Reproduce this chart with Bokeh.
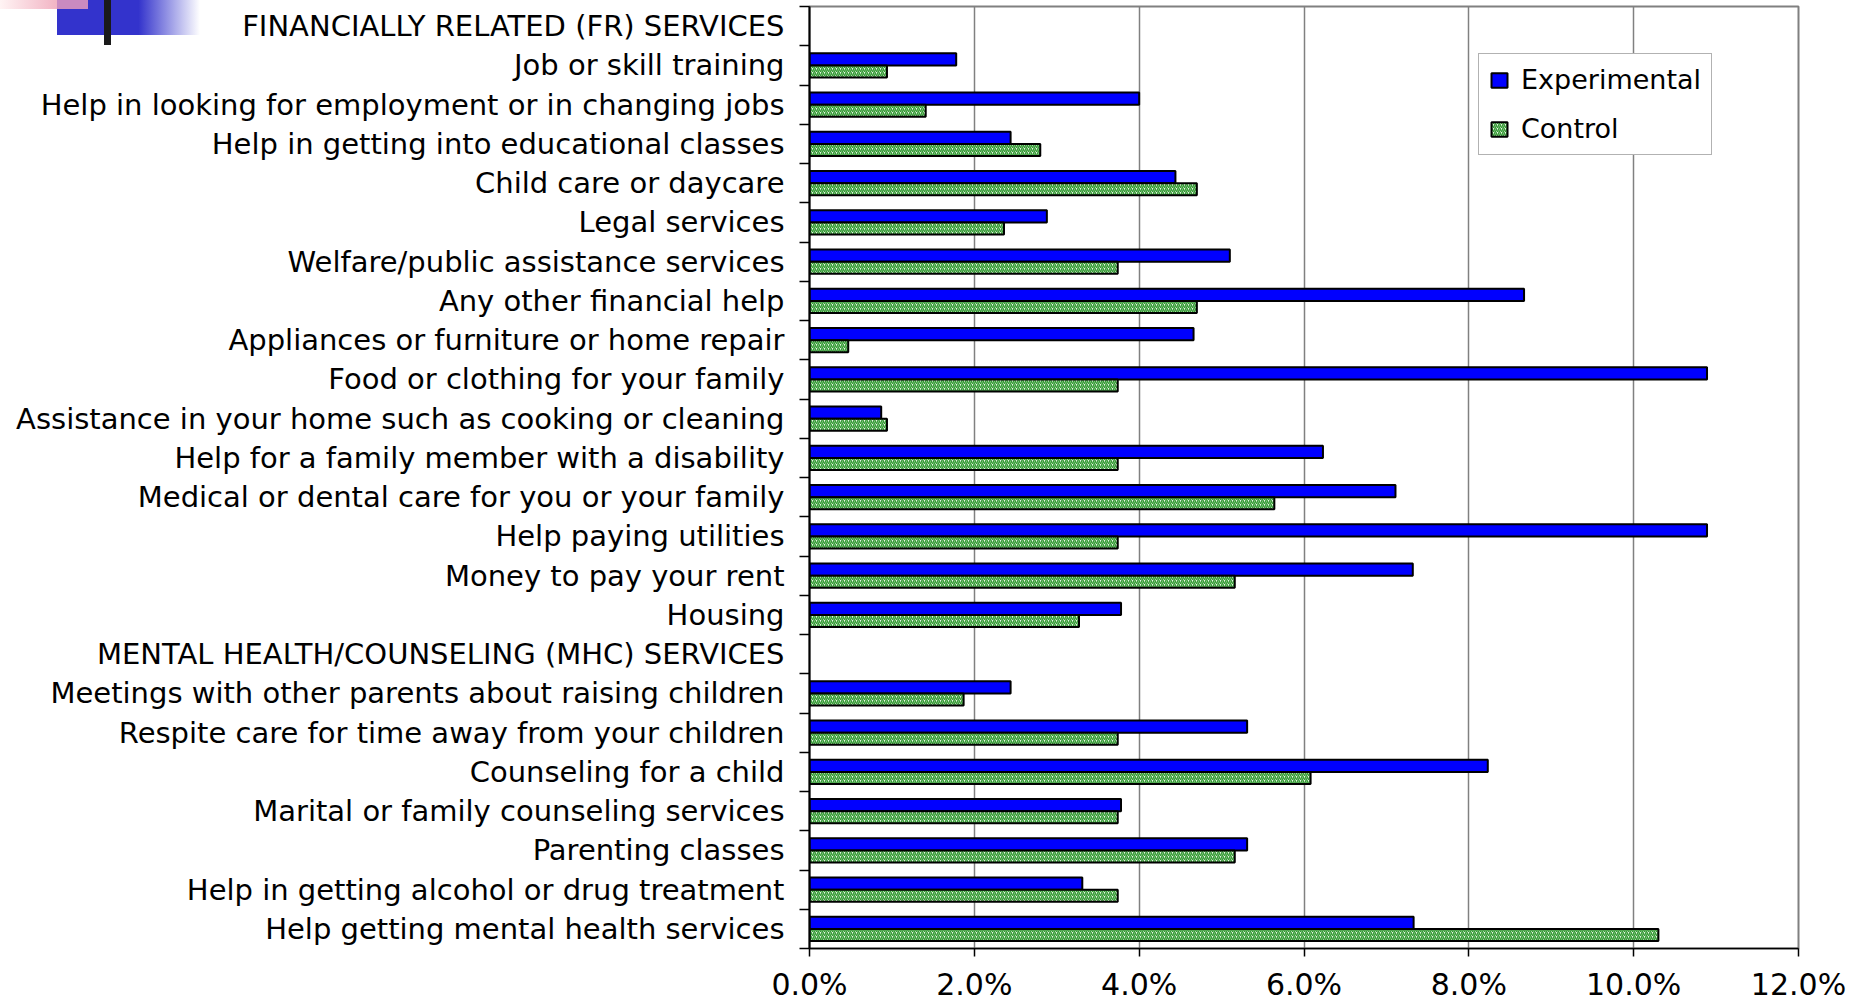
from bokeh.plotting import figure
from bokeh.models import (ColumnDataSource, Range1d, LinearAxis, FixedTicker,
                          PrintfTickFormatter, CustomJSTickFormatter, Div)
from bokeh.layouts import column
from bokeh.transform import dodge
from bokeh.embed import file_html
from bokeh.resources import INLINE

categories = [
    "FINANCIALLY RELATED (FR) SERVICES",
    "Job or skill training",
    "Help in looking for employment or in changing jobs",
    "Help in getting into educational classes",
    "Child care or daycare",
    "Legal services",
    "Welfare/public assistance services",
    "Any other financial help",
    "Appliances or furniture or home repair",
    "Food or clothing for your family",
    "Assistance in your home such as cooking or cleaning",
    "Help for a family member with a disability",
    "Medical or dental care for you or your family",
    "Help paying utilities",
    "Money to pay your rent",
    "Housing",
    "MENTAL HEALTH/COUNSELING (MHC) SERVICES",
    "Meetings with other parents about raising children",
    "Respite care for time away from your children",
    "Counseling for a child",
    "Marital or family counseling services",
    "Parenting classes",
    "Help in getting alcohol or drug treatment",
    "Help getting mental health services",
]

experimental = [None, 1.78, 4.00, 2.44, 4.44, 2.88, 5.10, 8.67, 4.66, 10.89, 0.87, 6.23, 7.11,
                10.89, 7.32, 3.78, None, 2.44, 5.31, 8.23, 3.78, 5.31, 3.31, 7.33]
control = [None, 0.94, 1.41, 2.80, 4.70, 2.36, 3.74, 4.70, 0.47, 3.74, 0.94, 3.74, 5.64,
           3.74, 5.16, 3.27, None, 1.87, 3.74, 6.08, 3.74, 5.16, 3.74, 10.30]

x_ticks = [0, 2, 4, 6, 8, 10, 12]

n = len(categories)
nan = float("nan")
src = ColumnDataSource(dict(
    cat=categories,
    ypos=[n - i - 0.5 for i in range(n)],
    exp=[nan if v is None else v for v in experimental],
    ctrl=[nan if v is None else v for v in control],
))

FONT = "DejaVu Sans"

p = figure(width=1850, height=1004,
           y_range=Range1d(0, n),
           x_range=Range1d(0, 12),
           y_axis_location=None,
           output_backend="svg", toolbar_location=None,
           min_border_left=809, min_border_right=52, min_border_top=6, min_border_bottom=54)
p.background_fill_color = "white"
p.border_fill_color = "white"
p.outline_line_color = "#808080"
p.outline_line_width = 2

p.hbar(y=dodge("ypos", 0.155), left=0, right="exp", height=0.31,
       fill_color="#0000FF", line_color="black", line_width=2, source=src,
       legend_label="Experimental")
p.hbar(y=dodge("ypos", -0.155), left=0, right="ctrl", height=0.31,
       fill_color="#e6f6e2", hatch_pattern="/", hatch_color="#339933", hatch_scale=4,
       hatch_weight=1.5, line_color="black", line_width=2, source=src,
       legend_label="Control")

# x axis
xa = p.xaxis[0]
xa.ticker = FixedTicker(ticks=x_ticks)
xa.formatter = PrintfTickFormatter(format="%.1f%%")
xa.major_label_text_font = FONT
xa.major_label_text_font_size = "30px"
xa.major_label_text_color = "black"
xa.major_tick_out = 8
xa.major_tick_in = 0
xa.minor_tick_out = 0
xa.minor_tick_in = 0
xa.axis_line_color = "black"
xa.axis_line_width = 1.5
xa.major_tick_line_width = 1.5
xa.major_label_standoff = 10

p.xgrid.ticker = FixedTicker(ticks=x_ticks)
p.xgrid.grid_line_color = "#808080"
p.xgrid.grid_line_width = 1.5
p.ygrid.grid_line_color = None

# y axis: boundary ticks (no labels) + category labels at row centres
tick_axis = LinearAxis(ticker=FixedTicker(ticks=list(range(n + 1))),
                       formatter=CustomJSTickFormatter(code="return ''"),
                       major_label_standoff=0,
                       major_tick_out=10, major_tick_in=0, minor_tick_out=0, minor_tick_in=0,
                       axis_line_color="black", axis_line_width=2, major_tick_line_width=1.5)
label_axis = LinearAxis(ticker=FixedTicker(ticks=[k + 0.5 for k in range(n)]),
                        formatter=CustomJSTickFormatter(
                            args=dict(labels=categories, n=n),
                            code="return labels[n - 1 - Math.floor(tick)];"),
                        major_tick_out=0, major_tick_in=0, minor_tick_out=0, minor_tick_in=0,
                        major_tick_line_color=None, minor_tick_line_color=None,
                        axis_line_color=None, major_label_standoff=15,
                        major_label_text_font=FONT, major_label_text_font_size="29px",
                        major_label_text_color="black")
p.add_layout(tick_axis, "left")
p.add_layout(label_axis, "left")

# legend
lg = p.legend[0]
lg.location = (669, 793)
lg.label_text_font = FONT
lg.label_text_font_size = "27px"
lg.label_text_color = "black"
lg.glyph_width = 20
lg.glyph_height = 18
lg.label_standoff = 12
lg.spacing = 18
lg.padding = 10
lg.border_line_color = "#666666"
lg.border_line_width = 1.5
lg.background_fill_color = "white"
lg.background_fill_alpha = 1.0

# top-left slide-template decoration, floated over the page corner
deco_html = (
    '<div style="position:relative;width:210px;height:46px;">'
    '<div style="position:absolute;left:57px;top:0;width:143px;height:35px;'
    'background:linear-gradient(to right,#3333cc 0%,#3333cc 57%,rgba(51,51,204,0) 100%);"></div>'
    '<div style="position:absolute;left:0;top:0;width:57px;height:9px;'
    'background:linear-gradient(to right,#fff4f4,#f2b4c4);"></div>'
    '<div style="position:absolute;left:57px;top:0;width:31px;height:9px;background:#c98bc0;"></div>'
    '<div style="position:absolute;left:104px;top:0;width:7px;height:45px;background:#1a1a1a;"></div>'
    '</div>'
)
deco = Div(text=deco_html, width=210, height=46,
           styles={"position": "absolute", "left": "0px", "top": "0px", "z-index": "5",
                   "margin": "0", "padding": "0"})

layout = column(p, deco, spacing=0)

open("out.html", "w").write(file_html(layout, INLINE))
